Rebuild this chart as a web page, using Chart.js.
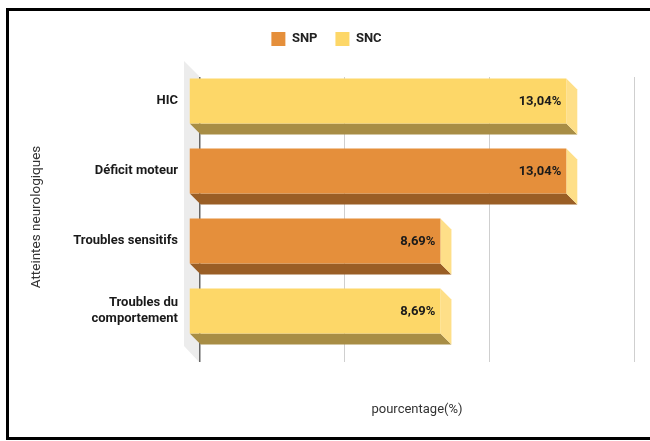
<!DOCTYPE html>
<html>
<head>
<meta charset="utf-8">
<script src="https://cdn.jsdelivr.net/npm/chart.js@4"></script>
<style>
  html, body { margin: 0; padding: 0; background: #fff; overflow: hidden; }
  #frame { position: absolute; left: 6px; top: 8px; width: 644px; height: 426px; border: 3px solid #000; background: #fff; }
  canvas { display: block; }
</style>
</head>
<body>
<div id="frame"><canvas id="chart" width="644" height="426"></canvas></div>
<script>
// Neurological involvement, share of patients (%)
const categories = ['HIC', 'Déficit moteur', 'Troubles sensitifs', ['Troubles du', 'comportement']];
const snpValues = [null, 13.04, 8.69, null];
const sncValues = [13.04, null, null, 8.69];
const xTickValues = [0, 5, 10, 15];

const DEPTH = 11;       // extrusion of the bars
const WALL_DEPTH = 16;  // extrusion of the left wall

function fmtPct(v) {
  return v.toFixed(2).replace('.', ',') + '%';
}

// Pseudo-3D bars: side and bottom faces, shifted front face, and value labels
const bar3d = {
  id: 'bar3d',
  beforeDraw(chart) {
    const { ctx, chartArea: a } = chart;
    ctx.save();
    ctx.fillStyle = '#ECECEC';
    ctx.beginPath();
    ctx.moveTo(a.left - WALL_DEPTH, a.top - WALL_DEPTH);
    ctx.lineTo(a.left - 1, a.top - 1);
    ctx.lineTo(a.left - 1, a.bottom + 5);
    ctx.lineTo(a.left - WALL_DEPTH, a.bottom + 5 - WALL_DEPTH);
    ctx.closePath();
    ctx.fill();
    ctx.restore();
  },
  beforeDatasetsDraw(chart) {
    const { ctx } = chart;
    const D = DEPTH;
    ctx.save();
    chart.data.datasets.forEach((ds, di) => {
      const meta = chart.getDatasetMeta(di);
      if (meta.hidden) return;
      meta.data.forEach((el, i) => {
        if (ds.data[i] == null) return;
        const { x, y, base, height } = el.getProps(['x', 'y', 'base', 'height'], true);
        const top = y - height / 2, bot = y + height / 2;
        ctx.fillStyle = ds.bottomColor;
        ctx.beginPath();
        ctx.moveTo(base - D, bot - D);
        ctx.lineTo(x - D, bot - D);
        ctx.lineTo(x, bot);
        ctx.lineTo(base, bot);
        ctx.closePath();
        ctx.fill();
        ctx.fillStyle = ds.sideColor;
        ctx.beginPath();
        ctx.moveTo(x - D, top - D);
        ctx.lineTo(x, top);
        ctx.lineTo(x, bot);
        ctx.lineTo(x - D, bot - D);
        ctx.closePath();
        ctx.fill();
      });
    });
    ctx.restore();
    ctx.save();
    ctx.translate(-D, -D);
  },
  afterDatasetsDraw(chart) {
    const { ctx } = chart;
    ctx.restore();
    ctx.save();
    ctx.font = 'bold 13px Roboto';
    ctx.fillStyle = '#1a1a1a';
    ctx.textAlign = 'right';
    ctx.textBaseline = 'middle';
    chart.data.datasets.forEach((ds, di) => {
      const meta = chart.getDatasetMeta(di);
      meta.data.forEach((el, i) => {
        const v = ds.data[i];
        if (v == null) return;
        const { x, y } = el.getProps(['x', 'y'], true);
        ctx.fillText(fmtPct(v), x - DEPTH - 5, y - DEPTH + 1);
      });
    });
    ctx.restore();
  }
};

Chart.defaults.font.family = 'Roboto';

new Chart(document.getElementById('chart'), {
  type: 'bar',
  data: {
    labels: categories,
    datasets: [
      { label: 'SNP', data: snpValues, backgroundColor: '#E58F3B', bottomColor: '#9A5E25', sideColor: '#FEDF88', clip: false },
      { label: 'SNC', data: sncValues, backgroundColor: '#FDD768', bottomColor: '#A88D45', sideColor: '#FEDF88', clip: false }
    ]
  },
  options: {
    indexAxis: 'y',
    responsive: false,
    animation: false,
    events: [],
    skipNull: true,
    categoryPercentage: 1,
    barPercentage: 45 / 70,
    layout: { padding: { top: 3, left: 10, right: 19, bottom: 0 } },
    plugins: {
      legend: {
        position: 'top',
        labels: {
          boxWidth: 14, boxHeight: 14, padding: 18,
          color: '#222',
          font: { size: 13, weight: 'bold' }
        }
      },
      tooltip: { enabled: false }
    },
    scales: {
      x: {
        type: 'linear',
        min: 0, max: 15,
        afterBuildTicks: s => { s.ticks = xTickValues.map(v => ({ value: v })); },
        ticks: { display: false },
        border: { display: false },
        grid: {
          color: c => (c.tick && c.tick.value === 0) ? '#666' : '#CFCFCF',
          lineWidth: c => (c.tick && c.tick.value === 0) ? 1.5 : 1,
          drawTicks: true,
          tickLength: 5
        },
        title: {
          display: true,
          text: 'pourcentage(%)',
          color: '#333',
          font: { size: 13 },
          padding: { top: 0, bottom: 19 }
        },
        afterFit: s => { s.height = 80; }
      },
      xTop: {
        type: 'linear',
        position: 'top',
        display: true,
        ticks: { display: false },
        grid: { display: false, drawTicks: false },
        border: { display: false },
        afterFit: s => { s.height = 21; }
      },
      y: {
        ticks: {
          color: '#1a1a1a',
          font: { size: 13, weight: 'bold', lineHeight: 1.25 },
          padding: 22,
          labelOffset: -DEPTH
        },
        grid: { display: false, drawTicks: false },
        border: { display: false },
        title: {
          display: true,
          text: 'Atteintes neurologiques',
          color: '#333',
          font: { size: 13.5 },
          padding: { top: 10, bottom: 0 }
        },
        afterFit: s => { s.width = 181; }
      }
    }
  },
  plugins: [bar3d]
});
</script>
</body>
</html>
